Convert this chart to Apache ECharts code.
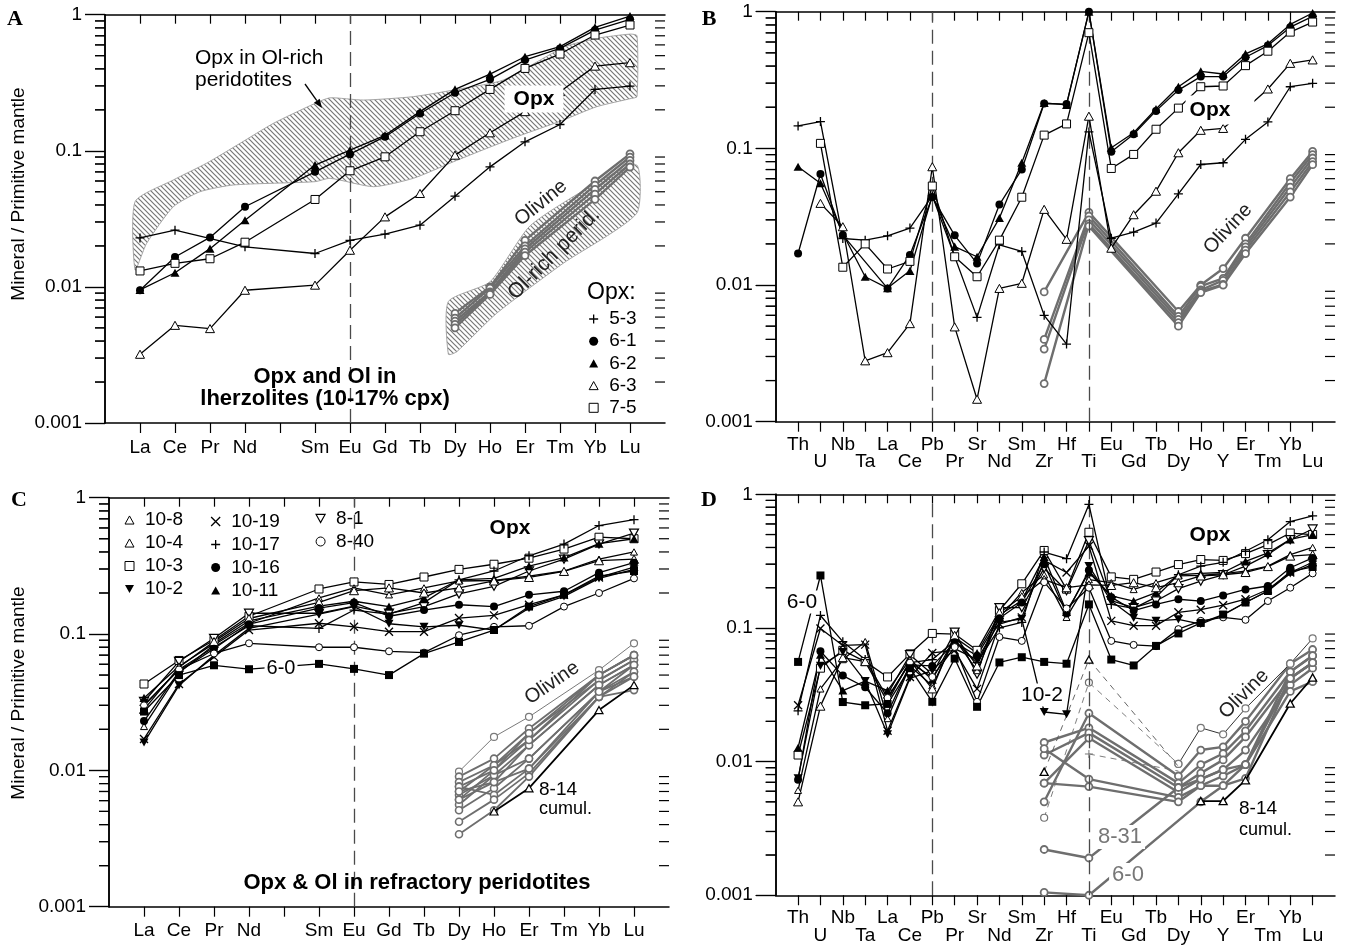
<!DOCTYPE html>
<html>
<head>
<meta charset="utf-8">
<script src="https://cdn.jsdelivr.net/npm/echarts@6/dist/echarts.min.js"></script>
<style>
html,body{margin:0;padding:0;background:#fff}
#chart{width:1345px;height:945px}
</style>
</head>
<body>
<div id="chart"></div>
<script>
// ---------- element orders (x axes) ----------
const REE = ['La','Ce','Pr','Nd','Pm','Sm','Eu','Gd','Tb','Dy','Ho','Er','Tm','Yb','Lu'];
const REE_LABELS = ['La','Ce','Pr','Nd','','Sm','Eu','Gd','Tb','Dy','Ho','Er','Tm','Yb','Lu'];
const SPIDER = ['Th','U','Nb','Ta','La','Ce','Pb','Pr','Sr','Nd','Sm','Zr','Hf','Ti','Eu','Gd','Tb','Dy','Ho','Y','Er','Tm','Yb','Lu'];
const Y_MINOR = [0.002,0.003,0.004,0.005,0.006,0.007,0.008,0.009,
                 0.02,0.03,0.04,0.05,0.06,0.07,0.08,0.09,
                 0.2,0.3,0.4,0.5,0.6,0.7,0.8,0.9];

// ---------- A: opx and olivine in lherzolites ----------
const A_ELEMS = ['La','Ce','Pr','Nd','Sm','Eu','Gd','Tb','Dy','Ho','Er','Tm','Yb','Lu'];
const A_53 = [0.0229,0.0261,null,0.0197,0.0176,0.0220,0.0244,0.0284,0.0464,0.0762,0.1164,0.156,0.2825,0.299];
const A_61 = [0.00945,0.0166,0.0231,0.0388,0.0701,0.0945,0.127,0.188,0.267,0.335,0.464,0.565,0.771,0.924];
const A_62 = [0.0095,0.0127,0.0191,0.0309,0.0785,0.101,0.130,0.194,0.2825,0.366,0.491,0.582,0.807,0.978];
const A_63 = [0.0032,0.00522,0.00494,0.00945,0.0103,0.0186,0.0327,0.0486,0.0929,0.1356,0.194,0.272,0.419,0.444];
const A_75 = [0.0131,0.0149,0.0161,0.0213,0.0439,0.0713,0.0903,0.138,0.197,0.2825,0.403,0.514,0.709,0.840];

// shaded fields (x = element position, y = normalized value)
const BAND_OPX = [[0.86,0.0423],[1.95,0.061],[2.9,0.081],[3.86,0.1135],[4.81,0.159],[6.0,0.223],[6.43,0.245],
  [7.38,0.236],[8.81,0.25],[10.24,0.288],[11.38,0.331],[13.13,0.58],[14.05,0.67],[15.0,0.72],[15.2,0.70],
  [15.2,0.25],[15.05,0.243],[14.05,0.211],[13.09,0.168],[11.77,0.127],[10.9,0.104],[9.95,0.083],[8.81,0.0628],
  [7.67,0.0545],[6.43,0.0628],[6.0,0.0593],[3.67,0.0561],[2.71,0.050],[1.95,0.0388],[1.19,0.0209],[0.86,0.0133]];
const BAND_OL = [[9.81,0.0078],[11.0,0.0109],[12.14,0.028],[13.86,0.0545],[15.19,0.0787],[15.19,0.0347],
  [13.09,0.0149],[11.19,0.0064],[10.05,0.00334],[9.81,0.0032]];

// ---------- B: same samples, extended pattern ----------
const B_53 = [0.146,0.157,0.0219,0.0213,0.0229,0.0261,0.045,null,0.0058,0.0197,0.0176,0.0060,0.0037,0.132,0.0220,0.0244,0.0284,0.0464,0.0762,0.0785,0.1164,0.156,0.2825,0.299];
const B_61 = [0.017,0.0649,0.0232,null,0.00945,0.0166,0.044,0.0231,0.0144,0.0388,0.0701,0.213,0.211,1.0,0.0945,0.127,0.188,0.267,0.335,0.335,0.464,0.565,0.771,0.924];
const B_62 = [0.0734,0.0555,0.0238,0.0115,0.0095,0.0127,0.045,0.0191,0.0161,0.0309,0.0785,0.215,0.208,1.0,0.101,0.130,0.194,0.2825,0.366,0.35,0.491,0.582,0.807,0.978];
const B_63 = [null,0.0396,0.0267,0.00279,0.0032,0.00522,0.0734,0.00494,0.00146,0.00945,0.0103,0.0358,0.0216,0.172,0.0186,0.0327,0.0486,0.0929,0.1356,0.14,0.194,0.272,0.419,0.444];
const B_75 = [null,0.1088,0.0135,0.020,0.0131,0.0149,0.053,0.0161,0.0115,0.0213,0.0439,0.125,0.151,0.702,0.0713,0.0903,0.138,0.197,0.2825,0.286,0.403,0.514,0.709,0.840];

// olivine (A and B)
const OL_AB_ELEMS = ['Zr','Ti','Dy','Ho','Y','Er','Yb','Lu'];
const OL_AB_1 = [0.0089,0.034,0.0064,0.0100,0.0132,0.022,0.060,0.095];
const OL_AB_2 = [0.0040,0.032,0.0059,0.0098,0.0112,0.020,0.056,0.090];
const OL_AB_3 = [0.0034,0.030,0.0056,0.0092,0.0108,0.019,0.052,0.085];
const OL_AB_4 = [0.0019,0.028,0.0053,0.0090,0.0101,0.018,0.048,0.080];
const OL_AB_5 = [null,0.027,0.0050,0.0088,0.0100,0.017,0.044,0.076];

// ---------- C: refractory peridotites, REE ----------
const C_ELEMS = ['La','Ce','Pr','Nd','Sm','Eu','Gd','Tb','Dy','Ho','Er','Tm','Yb','Lu'];
const C_10_3  = [0.043,0.064,0.090,0.135,0.214,0.241,0.231,0.262,0.298,0.325,0.36,0.42,0.513,0.50];
const C_10_17 = [0.030,0.055,0.080,0.115,0.110,0.150,0.140,0.170,0.25,0.29,0.375,0.457,0.625,0.69];
const C_8_1   = [0.032,0.063,0.093,0.142,0.142,0.16,0.142,0.159,0.197,0.224,0.29,0.354,0.457,0.55];
const C_10_11 = [0.034,0.058,0.085,0.125,0.16,0.174,0.159,0.184,0.25,0.256,0.315,0.364,0.46,0.50];
const C_10_8  = [0.021,0.052,0.083,0.120,0.184,0.218,0.194,0.218,0.245,0.247,0.266,0.29,0.354,0.40];
const C_10_4  = [0.028,0.057,0.088,0.130,0.171,0.208,0.218,0.20,0.218,0.245,0.26,0.288,0.345,0.354];
const C_10_16 = [0.023,0.053,0.078,0.118,0.155,0.17,0.135,0.150,0.164,0.159,0.194,0.206,0.282,0.334];
const C_10_2  = [0.016,0.042,0.070,0.110,0.14,0.159,0.119,0.113,0.116,0.107,0.155,0.189,0.256,0.298];
const C_10_19 = [0.017,0.043,0.068,0.107,0.12,0.113,0.104,0.104,0.131,0.137,0.164,0.194,0.26,0.31];
const C_8_40  = [0.030,0.055,0.072,0.0855,0.080,0.080,0.0747,0.073,0.098,0.113,0.115,0.159,0.20,0.256];
const C_6_0   = [0.027,0.050,0.059,0.0552,0.0604,0.0555,0.050,0.0718,0.0875,0.107,0.159,0.194,0.266,0.29];

const C_OL_ELEMS = ['Dy','Ho','Er','Yb','Lu'];
const C_OL_THIN = [0.0098,0.0176,0.0247,0.0544,0.0855];
const C_OL = [
  [0.0090,0.0122,0.0203,0.0500,0.0700],
  [0.0082,0.0109,0.0187,0.0500,0.0700],
  [0.0076,0.0100,0.0187,0.0459,0.0646],
  [0.0070,0.0109,0.0167,0.0459,0.0646],
  [0.0066,0.0092,0.0153,0.0423,0.0593],
  [0.0061,0.0082,0.0153,0.0423,0.0593],
  [0.0056,0.0092,0.0122,0.0377,0.0593],
  [0.0051,0.0074,0.0122,0.0377,0.0529],
  [0.0076,0.0066,0.0103,0.0346,0.0529],
  [0.0042,0.0061,0.0095,0.0346,0.0487],
  [0.0034,0.0051,0.0090,0.0346,0.0388],
  [0.0061,0.0100,0.0167,0.0500,0.0700],
  [0.0070,0.0082,0.0103,0.0377,0.0487]
];
const C_8_14_ELEMS = ['Ho','Er','Yb','Lu'];
const C_8_14 = [0.0050,0.0074,0.0277,0.0422];

// ---------- D: refractory peridotites, extended pattern ----------
const D_10_3  = [0.0112,0.050,0.068,0.056,0.043,0.064,0.091,0.090,0.068,0.135,0.214,0.38,0.195,0.52,0.241,0.231,0.262,0.298,0.325,0.32,0.36,0.42,0.513,0.50];
const D_10_17 = [0.024,0.124,0.079,0.058,0.030,0.055,0.058,0.080,0.055,0.10,0.110,0.37,0.33,0.84,0.150,0.140,0.170,0.25,0.29,0.31,0.375,0.457,0.625,0.69];
const D_8_1   = [null,null,null,null,0.032,0.063,0.045,0.093,0.045,0.142,0.142,0.28,0.19,0.45,0.16,0.142,0.159,0.197,0.224,0.25,0.29,0.354,0.457,0.55];
const D_10_11 = [0.0127,0.063,0.034,0.040,0.034,0.058,0.041,0.085,0.065,0.125,0.16,0.34,0.132,0.26,0.174,0.159,0.184,0.25,0.256,0.26,0.315,0.364,0.46,0.50];
const D_10_8  = [0.0061,0.035,0.058,0.079,0.021,0.052,0.037,0.083,0.048,0.120,0.184,0.25,0.12,0.23,0.218,0.194,0.218,0.245,0.247,0.255,0.266,0.29,0.354,0.40];
const D_10_4  = [0.0050,0.026,0.060,0.056,0.028,0.057,0.035,0.088,0.052,0.130,0.171,0.23,0.20,0.21,0.208,0.218,0.20,0.218,0.245,0.25,0.26,0.288,0.345,0.354];
const D_10_16 = [0.0073,0.067,0.044,0.036,0.023,0.053,0.052,0.078,0.062,0.118,0.155,0.30,0.128,0.27,0.17,0.135,0.150,0.164,0.159,0.175,0.194,0.206,0.282,0.334];
const D_10_2  = [0.0075,0.052,0.066,0.040,0.016,0.042,0.048,0.070,0.058,0.110,0.117,0.0235,0.0226,0.29,0.159,0.119,0.113,0.116,0.107,0.125,0.155,0.189,0.256,0.298];
const D_10_19 = [0.0264,0.099,0.074,0.075,0.017,0.043,0.065,0.068,0.035,0.107,0.12,0.32,0.26,0.41,0.113,0.104,0.104,0.131,0.137,0.148,0.164,0.194,0.26,0.31];
const D_8_40  = [null,null,null,null,0.030,0.055,0.043,0.072,0.028,0.0855,0.080,0.22,0.14,0.20,0.080,0.0747,0.073,0.098,0.113,0.12,0.115,0.159,0.20,0.256];
const D_6_0   = [0.0557,0.247,0.0279,0.0264,0.027,0.050,0.028,0.059,0.0257,0.0552,0.0604,0.0557,0.054,0.150,0.058,0.0524,0.0734,0.091,0.109,0.126,0.155,0.189,0.264,0.286];

const D_OL_ELEMS = ['Zr','Ti','Dy','Ho','Y','Er','Yb','Lu'];
const D_OL = [
  [0.0050,0.0230,0.0078,0.0122,0.0129,0.020,0.054,0.069],
  [0.0139,0.0179,0.0069,0.0095,0.0115,0.017,0.047,0.062],
  [0.0112,0.0164,0.0064,0.0082,0.0103,0.0153,0.042,0.055],
  [0.0069,0.0150,0.0059,0.0074,0.0087,0.0122,0.0375,0.050],
  [0.0125,0.0074,0.0054,0.0066,0.0078,0.0095,0.0335,0.0396],
  [0.0069,0.0065,0.0050,0.0066,0.0066,0.0075,0.042,0.055]
];
const D_OL_8_31 = [0.0022,0.0019,0.0064,0.0074,0.0087,0.0095,0.047,0.062];
const D_OL_6_0  = [0.00105,0.0010,null,0.0050,0.0066,0.0095,0.042,0.055];
const D_OL_THIN_ELEMS = ['Zr','Ti','Dy','Ho','Y','Er','Yb','Lu'];
const D_OL_THIN = [0.0038,0.039,0.0096,0.0179,0.016,0.025,0.054,0.0835];
const D_OL_PLUS_ELEMS = ['Ti','Dy'];
const D_OL_PLUS = [0.0114,0.0085];
const D_8_14_ELEMS = ['Zr','Ti','Dy','Ho','Y','Er','Yb','Lu'];
const D_8_14 = [0.0084,0.058,0.0092,0.00507,0.00507,0.00726,0.0272,0.0426];

// ---------- styling ----------
const FONT = '"Liberation Sans", Arial, Helvetica, sans-serif';
const SERIF = '"Liberation Serif", "Times New Roman", serif';
const OLC = '#6e6e6e';
const STY = {
  plus:  {symbol:'path://M0,5L10,5M5,0L5,10', size:9, fill:'transparent', bw:1.3},
  cross: {symbol:'path://M0,0L10,10M10,0L0,10', size:8, fill:'transparent', bw:1.3},
  dot:   {symbol:'circle', size:8, fill:'#000', bw:0},
  ring:  {symbol:'circle', size:7, fill:'#fff', bw:1},
  tri:   {symbol:'path://M5,0L10,9L0,9Z', size:9, fill:'#000', bw:0},
  otri:  {symbol:'path://M5,0L10,9L0,9Z', size:9, fill:'#fff', bw:1},
  otriS: {symbol:'path://M5,0L10,9L0,9Z', size:7, fill:'#fff', bw:1},
  dtri:  {symbol:'path://M0,0L10,0L5,9Z', size:9, fill:'#000', bw:0},
  odtri: {symbol:'path://M0,0L10,0L5,9Z', size:9, fill:'#fff', bw:1.2},
  sq:    {symbol:'rect', size:8, fill:'#000', bw:0},
  osq:   {symbol:'rect', size:8, fill:'#fff', bw:1}
};

const GRIDS = [
  {left:105, top:14.7, width:560, height:408.3, xmax:16, elems:REE, dash:['Eu']},
  {left:775.7, top:11.7, width:559.3, height:410, xmax:25, elems:SPIDER, dash:['Pb','Ti']},
  {left:109, top:497.7, width:560, height:409, xmax:16, elems:REE, dash:['Eu']},
  {left:775.7, top:494.3, width:559.3, height:410, xmax:25, elems:SPIDER, dash:['Pb','Ti']}
];

function pts(axisElems, elems, vals, hide) {
  const out = [];
  elems.forEach((e, i) => {
    const k = axisElems.indexOf(e);
    if (k < 0 || vals[i] == null) return;
    const item = {value: [k + 1, vals[i]]};
    if (hide && hide.indexOf(e) >= 0) item.symbolSize = 0;
    out.push(item);
  });
  return out;
}

function opx(g, name, elems, vals, sty) {
  const s = STY[sty];
  return {
    type:'line', name, xAxisIndex:g*2, yAxisIndex:g*2,
    data: pts(GRIDS[g].elems, elems, vals),
    symbol: s.symbol, symbolSize: s.size, symbolKeepAspect: true,
    itemStyle: {color: s.fill, borderColor:'#000', borderWidth: s.bw},
    lineStyle: {color:'#000', width:1.3},
    z: 6, silent: true, clip: false, animation: false
  };
}

function olv(g, elems, vals, o) {
  o = o || {};
  const c = o.color || OLC;
  return {
    type:'line', xAxisIndex:g*2, yAxisIndex:g*2,
    data: pts(GRIDS[g].elems, elems, vals, o.hide),
    symbol: o.symbol || 'circle', symbolSize: o.size || 7, symbolKeepAspect: true,
    itemStyle: {color: o.fill || '#fff', borderColor: o.border || c, borderWidth: o.bw == null ? 1.8 : o.bw},
    lineStyle: {color: c, width: o.width || 2.4, type: o.dashed ? [6,5] : 'solid'},
    z: o.z || 4, silent: true, clip: false, animation: false
  };
}

function hatchCanvas() {
  const c = document.createElement('canvas');
  c.width = 5; c.height = 5;
  const g = c.getContext('2d');
  g.strokeStyle = '#777'; g.lineWidth = 1.2;
  g.beginPath();
  g.moveTo(-1,-1); g.lineTo(6,6);
  g.moveTo(-1,4); g.lineTo(1,6);
  g.moveTo(4,-1); g.lineTo(6,1);
  g.stroke();
  return c;
}
const HATCH = {image: hatchCanvas(), repeat: 'repeat'};

function band(g, poly) {
  return {
    type:'custom', xAxisIndex:g*2, yAxisIndex:g*2, silent:true, z:1, clip:false, animation:false,
    data: [[poly[0][0], poly[0][1]]],
    renderItem: (p, api) => ({
      type:'polygon',
      shape:{points: poly.map(q => api.coord(q)), smooth: 0.2},
      style:{fill: HATCH, stroke:'#a5a5a5', lineWidth:1}
    })
  };
}

// short minor ticks on both frame edges: outward on the left, inward on the right
function minorTickSeries(g) {
  const G = GRIDS[g];
  return {
    type:'custom', xAxisIndex:g*2, yAxisIndex:g*2, z:100, zlevel:1, clip:false, animation:false,
    data: Y_MINOR.map(v => [0, v]),
    renderItem: (p, api) => {
      const v = api.value(1);
      const l = api.coord([0, v]), r = api.coord([G.xmax, v]);
      return {type:'group', children:[
        {type:'line', shape:{x1:l[0]-10, y1:l[1], x2:l[0], y2:l[1]}, style:{stroke:'#000', lineWidth:1.2}},
        {type:'line', shape:{x1:r[0]-10, y1:r[1], x2:r[0], y2:r[1]}, style:{stroke:'#000', lineWidth:1.2}}
      ]};
    }
  };
}
// dashed reference lines at the marked elements
function dashSeries(g) {
  const G = GRIDS[g];
  return {
    type:'line', xAxisIndex:g*2, yAxisIndex:g*2, data:[], silent:true, animation:false,
    markLine: {
      silent:true, symbol:['none','none'], label:{show:false}, animation:false,
      lineStyle:{color:'#4a4a4a', width:1.3, type:[14,7]},
      emphasis:{disabled:true},
      data: G.dash.map(e => ({xAxis: G.elems.indexOf(e) + 1}))
    }
  };
}

// ---------- axes ----------
const grid = [], xAxis = [], yAxis = [];
GRIDS.forEach((G, g) => {
  grid.push({left:G.left, top:G.top, width:G.width, height:G.height});
  const ticks = G.elems.map((e, i) => i + 1);
  const spider = G.elems === SPIDER;
  const labelOf = v => {
    const i = Math.round(v) - 1;
    if (i < 0 || i >= G.elems.length) return '';
    const name = spider ? G.elems[i] : REE_LABELS[i];
    return (spider && i % 2 === 1) ? '\n' + name : name;
  };
  xAxis.push({
    gridIndex:g, type:'value', min:0, max:G.xmax, interval:1, position:'bottom',
    axisLine:{show:true, onZero:false, lineStyle:{color:'#000', width:1.5}},
    axisTick:{show:true, length:10, customValues:ticks, lineStyle:{color:'#000', width:1.2}},
    axisLabel:{show:true, customValues:ticks, formatter:labelOf, color:'#000', fontFamily:FONT,
               fontSize:19, margin: spider ? 14 : 15, lineHeight: spider ? 17.5 : 19},
    splitLine:{show:false}
  });
  xAxis.push({
    gridIndex:g, type:'value', min:0, max:G.xmax, interval:1, position:'top',
    axisLine:{show:true, onZero:false, lineStyle:{color:'#000', width:1.5}},
    axisTick:{show:true, inside:true, length:9, customValues:ticks, lineStyle:{color:'#000', width:1.2}},
    axisLabel:{show:false}, splitLine:{show:false}
  });
  yAxis.push({
    gridIndex:g, type:'log', logBase:10, min:0.001, max:1, position:'left',
    axisLine:{show:true, lineStyle:{color:'#000', width:1.5}},
    axisTick:{show:true, length:20, lineStyle:{color:'#000', width:1.2}},
    axisLabel:{show:true, margin:23, color:'#000', fontFamily:FONT, fontSize:19,
               formatter: v => Number(v).toPrecision(1)},
    splitLine:{show:false}, minorTick:{show:false}
  });
  yAxis.push({
    gridIndex:g, type:'log', logBase:10, min:0.001, max:1, position:'right',
    axisLine:{show:true, lineStyle:{color:'#000', width:1.5}},
    axisTick:{show:true, inside:true, length:20, lineStyle:{color:'#000', width:1.2}},
    axisLabel:{show:false}, splitLine:{show:false}
  });
});

// ---------- series ----------
const series = [];
GRIDS.forEach((G, g) => series.push(minorTickSeries(g), dashSeries(g)));

// A
series.push(band(0, BAND_OPX), band(0, BAND_OL));
[OL_AB_1, OL_AB_2, OL_AB_3, OL_AB_4, OL_AB_5].forEach(v => series.push(olv(0, OL_AB_ELEMS, v)));
series.push(opx(0,'5-3',A_ELEMS,A_53,'plus'), opx(0,'6-1',A_ELEMS,A_61,'dot'), opx(0,'6-2',A_ELEMS,A_62,'tri'),
            opx(0,'6-3',A_ELEMS,A_63,'otri'), opx(0,'7-5',A_ELEMS,A_75,'osq'));
// B
[OL_AB_1, OL_AB_2, OL_AB_3, OL_AB_4, OL_AB_5].forEach(v => series.push(olv(1, OL_AB_ELEMS, v)));
series.push(opx(1,'5-3',SPIDER,B_53,'plus'), opx(1,'6-1',SPIDER,B_61,'dot'), opx(1,'6-2',SPIDER,B_62,'tri'),
            opx(1,'6-3',SPIDER,B_63,'otri'), opx(1,'7-5',SPIDER,B_75,'osq'));
// C
series.push(olv(2, C_OL_ELEMS, C_OL_THIN, {width:1, color:'#7a7a7a', bw:1.2}));
C_OL.forEach(v => series.push(olv(2, C_OL_ELEMS, v, {width:1.8, bw:1.6})));
series.push(olv(2, C_8_14_ELEMS, C_8_14, {color:'#000', width:1.8, symbol:STY.otri.symbol, size:8, bw:1.2, z:5}));
const C_SER = [['10-3',C_10_3,'osq'],['10-17',C_10_17,'plus'],['8-1',C_8_1,'odtri'],['10-11',C_10_11,'tri'],
  ['10-8',C_10_8,'otriS'],['10-4',C_10_4,'otri'],['10-16',C_10_16,'dot'],['10-2',C_10_2,'dtri'],
  ['10-19',C_10_19,'cross'],['8-40',C_8_40,'ring'],['6-0',C_6_0,'sq']];
C_SER.forEach(s => series.push(opx(2, s[0], C_ELEMS, s[1], s[2])));
// D
D_OL.forEach(v => series.push(olv(3, D_OL_ELEMS, v)));
series.push(olv(3, D_OL_ELEMS, D_OL_8_31), olv(3, D_OL_ELEMS, D_OL_6_0));
series.push(olv(3, ['Zr','Ti','Dy'], D_OL_THIN.slice(0,3), {dashed:true, width:0.9, color:'#707070', bw:1.2, size:7}));
series.push(olv(3, D_OL_THIN_ELEMS.slice(2), D_OL_THIN.slice(2), {width:1, color:'#333', border:'#777', bw:1.2}));
series.push(olv(3, D_OL_PLUS_ELEMS, D_OL_PLUS, {dashed:true, width:0.9, color:'#707070', symbol:STY.plus.symbol,
  fill:'transparent', border:'#777', bw:1, size:8, hide:['Dy']}));
series.push(olv(3, D_8_14_ELEMS.slice(0,3), D_8_14.slice(0,3), {dashed:true, width:0.9, color:'#555',
  symbol:STY.otri.symbol, size:8, border:'#000', bw:1.3, hide:['Dy'], z:5}));
series.push(olv(3, D_8_14_ELEMS.slice(3), D_8_14.slice(3), {color:'#000', width:1.8,
  symbol:STY.otri.symbol, size:8, border:'#000', bw:1.3, z:5}));
const D_SER = [['10-3',D_10_3,'osq'],['10-17',D_10_17,'plus'],['8-1',D_8_1,'odtri'],['10-11',D_10_11,'tri'],
  ['10-8',D_10_8,'otriS'],['10-4',D_10_4,'otri'],['10-16',D_10_16,'dot'],['10-2',D_10_2,'dtri'],
  ['10-19',D_10_19,'cross'],['8-40',D_8_40,'ring'],['6-0',D_6_0,'sq']];
D_SER.forEach(s => series.push(opx(3, s[0], SPIDER, s[1], s[2])));

// ---------- legends ----------
function legendItem(name, sty) {
  const s = STY[sty];
  return {name, icon: s.symbol, itemStyle:{color: s.fill, borderColor:'#000', borderWidth: s.bw || 0.01}};
}
function legendBox(left, top, items, gap) {
  return {
    orient:'vertical', left, top, padding:0, itemWidth:9, itemHeight:9, itemGap:gap,
    selectedMode:false, inactiveColor:'#000',
    textStyle:{fontFamily:FONT, fontSize:19, color:'#000', lineHeight:20, padding:[0,0,0,6]},
    data: items
  };
}
const legend = [
  legendBox(588.5, 309, [legendItem('5-3','plus'), legendItem('6-1','dot'), legendItem('6-2','tri'),
                         legendItem('6-3','otri'), legendItem('7-5','osq')], 2.2),
  legendBox(124.5, 510, [legendItem('10-8','otriS'), legendItem('10-4','otri'), legendItem('10-3','osq'),
                         legendItem('10-2','dtri')], 3),
  legendBox(210.5, 511.5, [legendItem('10-19','cross'), legendItem('10-17','plus'), legendItem('10-16','dot'),
                           legendItem('10-11','tri')], 3),
  legendBox(315.5, 508.5, [legendItem('8-1','odtri'), legendItem('8-40','ring')], 3)
];

// ---------- annotations ----------
function txt(text, x, y, font, o) {
  o = o || {};
  return {
    type:'text', x, y, rotation: o.rot ? o.rot * Math.PI / 180 : 0, z:60, silent:true,
    style: Object.assign({text, font, fill: o.fill || '#000', align: o.align || 'center', verticalAlign:'middle'},
      o.bg ? {backgroundColor:'#fff', padding: o.pad || [1,2]} : {})
  };
}
const F = s => s + 'px ' + FONT;
const FB = s => 'bold ' + s + 'px ' + FONT;
function arrow(x1, y1, x2, y2) {
  const dx = x2 - x1, dy = y2 - y1, L = Math.hypot(dx, dy), ux = dx / L, uy = dy / L;
  const bx = x2 - ux * 9, by = y2 - uy * 9;
  return [
    {type:'line', z:60, silent:true, shape:{x1, y1, x2: bx, y2: by}, style:{stroke:'#000', lineWidth:1.3}},
    {type:'polygon', z:60, silent:true, shape:{points:[[x2,y2],[bx - uy*3.5, by + ux*3.5],[bx + uy*3.5, by - ux*3.5]]},
     style:{fill:'#000'}}
  ];
}
const graphic = [
  // A
  txt('A', 15, 19, 'bold 22px ' + SERIF),
  txt('Mineral / Primitive mantle', 19, 194, F(19), {rot:90}),
  txt('Opx in Ol-rich', 195, 58, F(21), {align:'left'}),
  txt('peridotites', 195, 80, F(21), {align:'left'}),
  ...arrow(305, 84, 322, 108),
  txt('Opx', 534, 99, FB(21), {bg:true, pad:[3,9,3,9]}),
  txt('Olivine', 541, 203, F(20), {rot:39, fill:'#222'}),
  txt('Ol-rich perid.', 554, 254, F(21), {rot:45, fill:'#222'}),
  txt('Opx:', 587, 293, F(23), {align:'left'}),
  txt('Opx and Ol in', 325, 377, FB(22)),
  txt('lherzolites (10-17% cpx)', 325, 399, FB(22)),
  // B
  txt('B', 709, 19, 'bold 22px ' + SERIF),
  txt('Opx', 1220, 110, FB(21), {bg:true, pad:[4,24,4,4]}),
  txt('Olivine', 1228, 229, F(20), {rot:47, fill:'#222'}),
  // C
  txt('C', 19, 500, 'bold 22px ' + SERIF),
  txt('Mineral / Primitive mantle', 19, 693, F(19), {rot:90}),
  txt('Opx', 510, 528, FB(21)),
  txt('6-0', 281, 668, F(20), {bg:true, pad:[0,2]}),
  txt('Olivine', 552, 683, F(20), {rot:34.5, fill:'#222'}),
  txt('8-14', 539, 790, F(19), {align:'left'}),
  txt('cumul.', 539, 809, F(18), {align:'left'}),
  txt('Opx & Ol in refractory peridotites', 417, 883, FB(22)),
  // D
  txt('D', 709, 500, 'bold 22px ' + SERIF),
  txt('6-0', 802, 602, F(21), {bg:true, pad:[1,2]}),
  txt('Opx', 1210, 535, FB(21)),
  txt('10-2', 1042, 695, F(21), {bg:true, pad:[1,2]}),
  txt('Olivine', 1244, 694, F(20), {rot:45, fill:'#222'}),
  txt('8-31', 1120, 837, F(22), {bg:true, fill:'#777', pad:[1,3]}),
  txt('6-0', 1128, 875, F(22), {bg:true, fill:'#777', pad:[1,3]}),
  txt('8-14', 1239, 809, F(19), {align:'left'}),
  txt('cumul.', 1239, 830, F(18), {align:'left'})
];

const chart = echarts.init(document.getElementById('chart'), null, {renderer:'canvas', width:1345, height:945});
chart.setOption({
  animation:false,
  backgroundColor:'#fff',
  textStyle:{fontFamily:FONT},
  grid, xAxis, yAxis, legend, series, graphic
});

// left-edge minor ticks also placed as graphics through each panel's own log scale
const leftTicks = [];
GRIDS.forEach((G, g) => {
  const x = chart.convertToPixel({xAxisIndex: g * 2}, 0);
  Y_MINOR.forEach(v => {
    const y = chart.convertToPixel({yAxisIndex: g * 2}, v);
    leftTicks.push({type:'line', z:100, zlevel:1, silent:true,
      shape:{x1:x - 10, y1:y, x2:x, y2:y}, style:{stroke:'#000', lineWidth:1.2}});
  });
});
chart.setOption({graphic: graphic.concat(leftTicks)});
</script>
</body>
</html>
